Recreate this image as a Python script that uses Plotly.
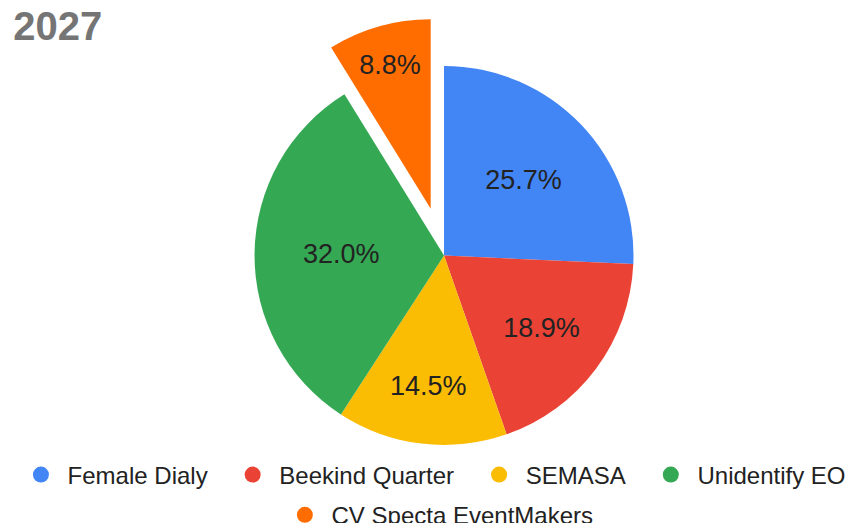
import plotly.graph_objects as go

labels = ["Female Dialy", "Beekind Quarter", "SEMASA", "Unidentify EO", "CV Specta EventMakers"]
values = [25.7, 18.9, 14.5, 32.0, 8.8]
colors = ["#4285F4", "#EA4335", "#FBBC04", "#34A853", "#FF6D01"]
pulls = [0, 0, 0, 0, 0.257]
title_text = "2027"

FONT = "Arial, 'Liberation Sans', sans-serif"
NB = "\u00a0"

fig = go.Figure()
fig.add_trace(go.Pie(
    labels=labels,
    values=values,
    sort=False,
    direction="clockwise",
    rotation=0,
    pull=pulls,
    marker=dict(colors=colors, line=dict(width=0)),
    texttemplate="%{percent:.1%}",
    textposition="inside",
    insidetextorientation="horizontal",
    textfont=dict(family=FONT, size=27, color="#222222"),
    showlegend=False,
    hoverinfo="label+percent",
    domain=dict(x=[0.0221, 0.9919], y=[0.0714, 0.9822]),
))

for i, (lab, col) in enumerate(zip(labels, colors)):
    fig.add_trace(go.Scatter(
        x=[None], y=[None], mode="markers",
        name=NB + lab + (NB * 3 if i < 3 else ""),
        marker=dict(symbol="circle", size=16, color=col),
        showlegend=True, hoverinfo="skip",
        legend="legend" if i < 4 else "legend2",
    ))

legend_common = dict(
    orientation="h",
    xanchor="center",
    yanchor="middle",
    font=dict(family=FONT, size=24, color="#222222"),
    bgcolor="rgba(0,0,0,0)",
    itemclick=False,
)

fig.update_layout(
    width=860,
    height=523,
    paper_bgcolor="white",
    plot_bgcolor="white",
    margin=dict(l=0, r=0, t=0, b=0, autoexpand=False),
    title=dict(
        text="<b>" + title_text + "</b>",
        x=0.006, xanchor="left", xref="paper",
        y=0.966, yanchor="middle", yref="container",
        font=dict(family=FONT, size=40, color="#757575"),
    ),
    xaxis=dict(visible=False),
    yaxis=dict(visible=False),
    legend=dict(x=0.4976, y=0.1071, **legend_common),
    legend2=dict(x=0.5045, y=0.0302, **legend_common),
)

fig.write_html("out.html")
